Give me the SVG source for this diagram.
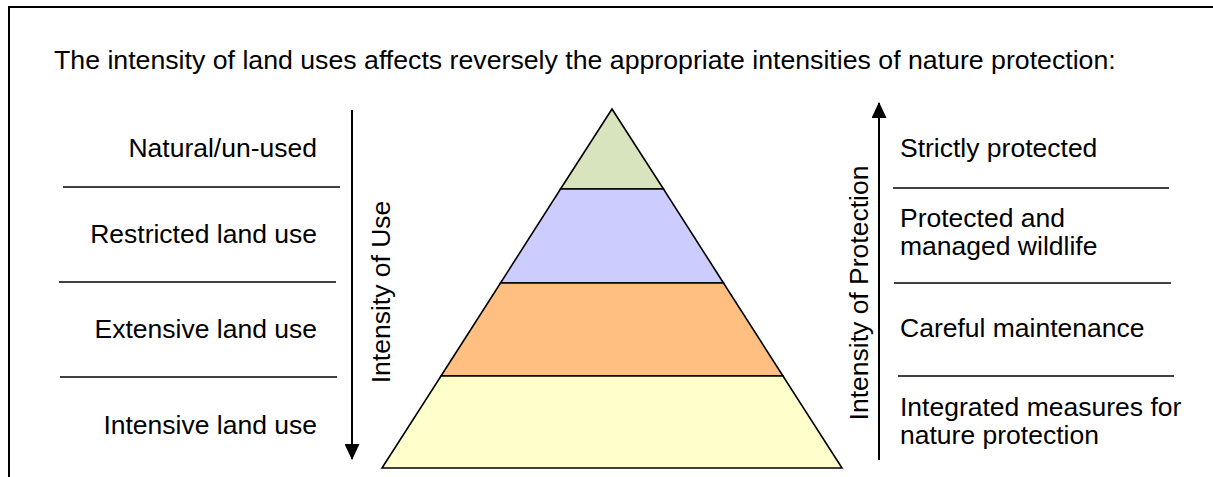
<svg xmlns="http://www.w3.org/2000/svg" width="1213" height="477" viewBox="0 0 1213 477">
  <style>
    text { font-family: "Liberation Sans", Arial, sans-serif; font-size: 26.5px; fill: #000; }
    .title { font-size: 26.7px; }
    .right { text-anchor: end; }
    .mid { text-anchor: middle; }
    .sep { stroke: #000; stroke-width: 1.4; fill: none; }
    .frame { stroke: #000; stroke-width: 2; fill: none; }
    .layer { stroke: #000; stroke-width: 1.6; stroke-linejoin: miter; }
    .axis { stroke: #000; stroke-width: 2; fill: none; }
  </style>
  <defs>
    <marker id="head" viewBox="0 0 16 15" refX="15" refY="7.5" markerWidth="16" markerHeight="15" markerUnits="userSpaceOnUse" orient="auto">
      <path d="M0,0 L16,7.5 L0,15 Z" fill="#000"/>
    </marker>
  </defs>

  <rect width="1213" height="477" fill="#fff"/>

  <!-- open frame: top and left edges -->
  <path class="frame" d="M9,477 L9,7 L1213,7"/>

  <g id="title">
    <text class="title" x="54" y="69">The intensity of land uses affects reversely the appropriate intensities of nature protection:</text>
  </g>

  <!-- pyramid, apex (612,109), base 382..842 at y=468 -->
  <g id="pyramid">
    <polygon id="layer-natural" class="layer" fill="#D7E4BD" points="612,109 663.5,189 560.5,189"/>
    <polygon id="layer-restricted" class="layer" fill="#CCCCFF" points="560.5,189 663.5,189 723.5,283 500.5,283"/>
    <polygon id="layer-extensive" class="layer" fill="#FFBF80" points="500.5,283 723.5,283 783,376 441,376"/>
    <polygon id="layer-intensive" class="layer" fill="#FFFFCC" points="441,376 783,376 842,468 382,468"/>
  </g>

  <!-- land use levels -->
  <g id="use-levels">
    <g id="use-natural"><text class="right" x="317" y="157">Natural/un-used</text></g>
    <line class="sep" x1="63" y1="187" x2="340" y2="187"/>
    <g id="use-restricted"><text class="right" x="317" y="243">Restricted land use</text></g>
    <line class="sep" x1="59" y1="282" x2="336" y2="282"/>
    <g id="use-extensive"><text class="right" x="317" y="338">Extensive land use</text></g>
    <line class="sep" x1="60" y1="377" x2="337" y2="377"/>
    <g id="use-intensive"><text class="right" x="317" y="434">Intensive land use</text></g>
  </g>

  <!-- protection levels -->
  <g id="protection-levels">
    <g id="prot-strict"><text x="900" y="157">Strictly protected</text></g>
    <line class="sep" x1="893" y1="188" x2="1169" y2="188"/>
    <g id="prot-managed">
      <text x="900" y="227">Protected and</text>
      <text x="900" y="255">managed wildlife</text>
    </g>
    <line class="sep" x1="894" y1="283" x2="1171" y2="283"/>
    <g id="prot-careful"><text x="900" y="337">Careful maintenance</text></g>
    <line class="sep" x1="898" y1="376" x2="1174" y2="376"/>
    <g id="prot-integrated">
      <text x="900" y="416">Integrated measures for</text>
      <text x="900" y="444">nature protection</text>
    </g>
  </g>

  <!-- axis arrows -->
  <g id="connectors">
    <line id="axis-use" class="axis" x1="352" y1="110" x2="352" y2="459" marker-end="url(#head)"/>
    <line id="axis-protection" class="axis" x1="879" y1="460" x2="879" y2="103" marker-end="url(#head)"/>
  </g>

  <g id="axis-labels">
    <text class="mid" transform="translate(390,292) rotate(-90)">Intensity of Use</text>
    <text class="mid" transform="translate(868,293) rotate(-90)">Intensity of Protection</text>
  </g>
</svg>
